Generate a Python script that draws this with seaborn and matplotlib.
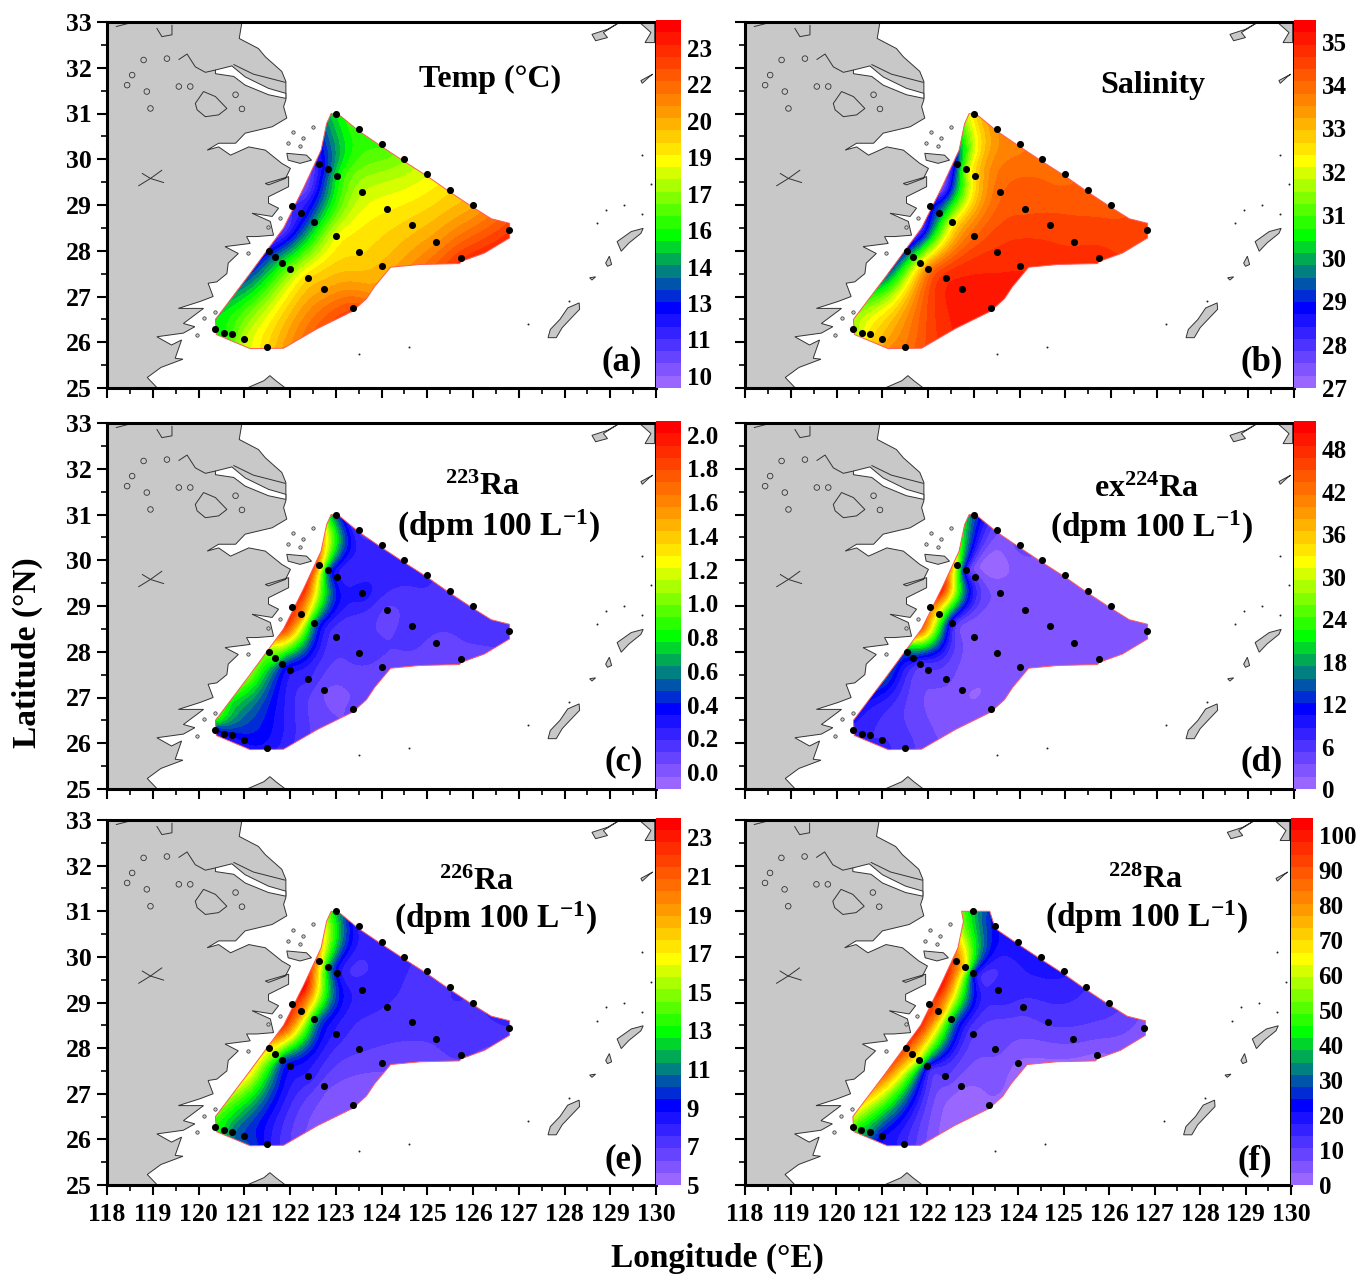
import matplotlib
matplotlib.use("Agg")
import matplotlib.pyplot as plt
import numpy as np
import pandas as pd
import seaborn as sns
from matplotlib.patches import Polygon

sns.set_theme(style="ticks")
plt.rcParams["font.family"] = ["Liberation Serif", "DejaVu Serif"]
plt.rcParams["font.weight"] = "bold"
plt.rcParams["text.color"] = "black"
plt.rcParams["mathtext.fontset"] = "custom"
plt.rcParams["mathtext.bf"] = "Liberation Serif:bold"
plt.rcParams["mathtext.rm"] = "Liberation Serif:bold"
plt.rcParams["mathtext.default"] = "bf"

W, H = 1367, 1277

# stations
st_lon = [123.0, 123.5, 124.0, 124.5, 125.0, 125.5, 126.0, 126.78,
          122.63, 122.83, 123.02, 123.57, 124.12, 124.66, 125.2, 125.73,
          122.04, 122.24, 122.53, 123.0, 123.5, 124.0,
          121.54, 121.68, 121.83, 121.99, 122.39, 122.74, 123.37,
          120.37, 120.55, 120.74, 121.0, 121.49]
st_lat = [31.0, 30.67, 30.33, 30.0, 29.68, 29.33, 29.0, 28.45,
          29.9, 29.78, 29.64, 29.28, 28.91, 28.57, 28.2, 27.85,
          28.97, 28.82, 28.63, 28.32, 27.98, 27.67,
          28.0, 27.87, 27.74, 27.6, 27.4, 27.17, 26.75,
          26.28, 26.21, 26.17, 26.07, 25.89]
# points on the edge of the mapped area, no station there
edge_lon = [122.8, 122.3, 121.8, 121.1, 120.7, 120.38, 121.15, 123.8, 124.9, 126.3]
edge_lat = [30.6, 29.35, 28.5, 27.45, 26.9, 26.5, 25.87, 27.1, 27.72, 27.95]

temp = [15.5, 16.5, 16.5, 17.5, 18.5, 19.5, 20.5, 23.0,
        12, 13.5, 15.5, 18, 19, 19.8, 21, 23,
        11.5, 12, 14.5, 18.5, 19.5, 20.2,
        12.5, 14, 15.5, 17, 19.5, 20.5, 22.5,
        15.5, 16, 16.5, 18, 19.5,
        14, 10.5, 10.5, 13.5, 15, 15.5, 18.5, 21, 21.5, 23.5]
salinity = [32.5, 33.5, 33.7, 34, 34, 34.2, 34.3, 34.5,
            29, 31.5, 32.5, 34, 34.3, 34.5, 34.6, 34.8,
            28.5, 29.5, 32, 34, 34.7, 34.9,
            29, 30.5, 32, 33.5, 34.8, 35, 35,
            31.5, 32, 32.5, 33, 33.8,
            31, 27.5, 27.5, 29.5, 31, 31.5, 33.5, 35, 34.8, 34.6]
ra223 = [0.5, 0.15, 0.25, 0.2, 0.2, 0.15, 0.15, 0.15,
         1.5, 0.55, 0.3, 0.3, 0.1, 0.15, 0.1, 0.1,
         1.9, 1.6, 0.6, 0.15, 0.15, 0.1,
         1.0, 0.9, 0.5, 0.3, 0.2, 0.05, 0.05,
         0.35, 0.35, 0.35, 0.35, 0.3,
         1.2, 1.9, 1.9, 1.0, 0.8, 0.8, 0.3, 0.05, 0.1, 0.1]
ra224 = [15, 4, 4, 3, 2, 2, 2, 2,
         28, 8, 5, 3, 2, 2, 2, 2,
         42, 30, 8, 3, 2, 2,
         15, 12, 6, 5, 4, 2, 2,
         8, 8, 7, 7, 6,
         20, 48, 45, 14, 10, 9, 7, 2, 2, 2]
ra226 = [12, 8, 8, 7.8, 7, 7.5, 7.5, 7.5,
         18, 12, 9, 8, 7.5, 7.2, 7, 7,
         22.5, 20, 12, 8, 7, 6.5,
         17, 15, 10.5, 9, 8, 6.5, 5.8,
         13, 12.5, 11, 10, 8.5,
         16, 23.5, 23, 17, 15, 14, 10, 5.8, 6.5, 6.8]
ra228 = [40, 22, 20, 19, 18, 14, 12, 5,
         85, 65, 25, 17, 12, 11, 8, 3,
         95, 85, 40, 11, 8, 3,
         90, 75, 58, 22, 11, 4, 3,
         50, 40, 35, 22, 15,
         55, 100, 100, 85, 70, 60, 20, 3, 3, 4]

# colour range of each panel
ranges = [(9.5, 24.65), (27.0, 35.5), (-0.1, 2.08), (0.0, 52.0), (5.0, 24.0), (0.0, 105.0)]
tick_pos = [[10, 11.5, 13, 14.5, 16, 17.5, 19, 20.5, 22, 23.5],
            [27, 28, 29, 30, 31, 32, 33, 34, 35],
            [0, .2, .4, .6, .8, 1, 1.2, 1.4, 1.6, 1.8, 2],
            [0, 6, 12, 18, 24, 30, 36, 42, 48],
            [5, 7, 9, 11, 13, 15, 17, 19, 21, 23],
            [0, 10, 20, 30, 40, 50, 60, 70, 80, 90, 100]]
tick_txt = [["10", "11", "13", "14", "16", "17", "19", "20", "22", "23"],
            ["27", "28", "29", "30", "31", "32", "33", "34", "35"],
            ["0.0", "0.2", "0.4", "0.6", "0.8", "1.0", "1.2", "1.4", "1.6", "1.8", "2.0"],
            ["0", "6", "12", "18", "24", "30", "36", "42", "48"],
            ["5", "7", "9", "11", "13", "15", "17", "19", "21", "23"],
            ["0", "10", "20", "30", "40", "50", "60", "70", "80", "90", "100"]]

# outline of the mapped area
area_lon = [122.9, 123.1, 123.5, 124, 124.5, 125, 125.5, 126, 126.4, 126.8, 126.8, 126.25,
            125.75, 125.7, 124.84, 124.2, 123.85, 123.67, 123.37, 122.6, 121.86, 121.13,
            120.39, 120.37, 121.08, 121.86, 122.29, 122.68, 122.8]
area_lat = [31.0, 30.95, 30.62, 30.28, 29.95, 29.63, 29.28, 28.95, 28.7, 28.6, 28.28, 27.95,
            27.77, 27.72, 27.7, 27.64, 27.22, 26.95, 26.68, 26.3, 25.87, 25.86,
            26.17, 26.5, 27.44, 28.5, 29.36, 30.2, 30.78]

# land
china = [(118, 33), (120.95, 33), (120.89, 32.64), (121.31, 32.42), (121.46, 32.24), (121.82, 31.92),
         (121.91, 31.70), (121.91, 31.30), (121.86, 31.15), (121.93, 30.90), (121.61, 30.71), (121.02, 30.57),
         (120.81, 30.35), (120.44, 30.35), (120.19, 30.20), (120.44, 30.27), (120.70, 30.09), (121.10, 30.27),
         (121.46, 30.20), (121.82, 29.91), (122.01, 29.80), (121.90, 29.58), (121.53, 29.44), (121.46, 29.47),
         (121.97, 29.62), (121.97, 29.40), (121.53, 29.18), (121.53, 29.04), (121.75, 28.93), (121.61, 28.75),
         (121.17, 28.82), (121.57, 28.64), (121.64, 28.34), (121.27, 28.31), (121.05, 28.31), (121.13, 28.16),
         (120.58, 28.09), (120.87, 27.94), (120.65, 27.73), (120.62, 27.50), (120.40, 27.32), (120.21, 27.29),
         (120.32, 27.0), (120.03, 26.89), (119.56, 26.74), (120.11, 26.74), (119.67, 26.41), (119.92, 26.34),
         (119.67, 26.2), (119.09, 26.12), (119.41, 25.94), (119.63, 26.05), (119.49, 25.65), (119.66, 25.63),
         (119.18, 25.45), (118.88, 25.23), (119.1, 25), (118, 25)]
islands = [
    [(127.64, 26.1), (127.69, 26.28), (127.9, 26.5), (128.07, 26.75), (128.32, 26.86), (128.33, 26.72),
     (128.12, 26.5), (127.95, 26.32), (127.82, 26.1)],
    [(129.15, 28.2), (129.46, 28.42), (129.72, 28.49), (129.67, 28.38), (129.41, 28.17), (129.24, 27.99)],
    [(128.9, 27.73), (128.98, 27.88), (129.03, 27.7), (128.94, 27.66)],
    [(128.55, 27.41), (128.68, 27.43), (128.6, 27.36)],
    [(129.67, 31.72), (129.93, 31.86), (129.85, 31.8), (129.7, 31.66)],
    [(128.6, 32.73), (128.94, 32.84), (129.2, 32.99), (128.85, 32.77), (128.94, 32.66), (128.68, 32.59)],
    [(129.63, 33), (129.97, 33), (129.97, 32.55), (129.76, 32.55), (129.89, 32.77)],
    [(121.06, 25), (121.43, 25.16), (121.56, 25.27), (121.69, 25.16), (121.9, 25)],
    [(121.93, 30.13), (122.36, 30.09), (122.47, 29.98), (122.22, 29.91), (121.96, 29.98)],
]
river = [(120.37, 31.95), (120.73, 32.04), (121.02, 31.8), (121.53, 31.55), (121.91, 31.44), (121.91, 31.33),
         (121.53, 31.41), (121.02, 31.62), (120.77, 31.81), (120.37, 31.87)]
# thin lines inside the land
lines = [
    [(119.57, 32.18), (119.75, 32.3), (119.93, 32.02), (120.15, 31.9), (120.37, 31.95)],
    [(120.77, 32.07), (121.2, 31.86), (121.9, 31.68)],
    [(118.69, 29.42), (118.95, 29.58), (119.2, 29.76)],
    [(118.77, 29.69), (118.95, 29.58), (119.24, 29.49)],
    [(119.09, 32.86), (119.2, 32.68), (119.42, 32.72), (119.42, 32.93)],
    [(118.2, 32.9), (118.47, 32.97)],
]
lake = [(119.93, 31.22), (120.11, 31.48), (120.37, 31.37), (120.62, 31.11), (120.44, 30.97), (120.15, 30.93),
        (119.97, 31.08), (119.93, 31.22)]
lake_lon = [118.80, 119.31, 118.87, 119.57, 119.82, 120.81, 120.95, 118.95, 118.44, 118.55]
lake_lat = [32.17, 32.2, 31.48, 31.59, 31.59, 31.41, 31.1, 31.11, 31.62, 31.84]
small_lon = [122.29, 122.51, 122.07, 121.96, 122.22, 121.78, 121.53, 121.09, 120.36, 119.96, 120.11]
small_lat = [30.46, 30.71, 30.6, 30.35, 30.28, 28.71, 28.53, 27.94, 26.67, 26.16, 26.52]
dot_lon = [129.7, 129.3, 128.9, 129.7, 129.9, 123.5, 124.6, 127.2, 128.1, 128.7]
dot_lat = [30.1, 29.0, 28.9, 28.8, 29.45, 25.75, 25.9, 26.4, 26.9, 28.6]

palette = (sns.blend_palette(["#9966ff", "#0000ff"], 7)[:-1]
           + sns.blend_palette(["#0000ff", "#008080"], 4)[:-1]
           + sns.blend_palette(["#008080", "#00ff00"], 4)[:-1]
           + sns.blend_palette(["#00ff00", "#ffff00"], 7)[:-1]
           + sns.blend_palette(["#ffff00", "#ff9900"], 5)[:-1]
           + sns.blend_palette(["#ff9900", "#ff0000"], 8))

boxes = [(107, 22, 656, 388, 681), (745, 22, 1294, 388, 1316),
         (107, 423, 656, 789, 681), (745, 423, 1294, 789, 1316),
         (107, 820, 656, 1185, 681), (745, 820, 1291, 1185, 1313)]
fields = [temp, salinity, ra223, ra224, ra226, ra228]
letters = ["(a)", "(b)", "(c)", "(d)", "(e)", "(f)"]
letter_xy = [(622, 362), (1262, 362), (624, 762), (1262, 762), (624, 1160), (1255, 1161)]
titles = [[("Temp (°C)", 490, 79, 23)],
          [("Salinity", 1153, 86, 23)],
          [("$^{223}$Ra", 483, 487, 23), ("(dpm 100 L$^{-1}$)", 498, 526, 24)],
          [("ex$^{224}$Ra", 1147, 489, 23), ("(dpm 100 L$^{-1}$)", 1151, 527, 24)],
          [("$^{226}$Ra", 477, 882, 23), ("(dpm 100 L$^{-1}$)", 495, 918, 24)],
          [("$^{228}$Ra", 1146, 880, 23), ("(dpm 100 L$^{-1}$)", 1146, 917, 24)]]


def px_axes(fig, x0, y0, x1, y1):
    return fig.add_axes([x0 / W, 1 - y1 / H, (x1 - x0) / W, (y1 - y0) / H])


def surface(x, y, z, gx, gy):
    # thin plate spline through the read values
    def kernel(r):
        return np.where(r > 0, r**2 * np.log(r + 1e-12), 0.0)

    n = len(x)
    d = np.hypot(x[:, None] - x[None, :], y[:, None] - y[None, :])
    p = np.column_stack([np.ones(n), x, y])
    a = np.block([[kernel(d) + 0.002 * np.eye(n), p], [p.T, np.zeros((3, 3))]])
    c = np.linalg.solve(a, np.r_[z, np.zeros(3)])
    dg = np.hypot(gx[..., None] - x, gy[..., None] - y)
    return kernel(dg) @ c[:n] + c[n] + c[n + 1] * gx + c[n + 2] * gy


all_lon = np.array(st_lon + edge_lon)
all_lat = np.array(st_lat + edge_lat)
gx, gy = np.meshgrid(np.linspace(120, 127.2, 300), np.linspace(25.6, 31.2, 260))
stations = pd.DataFrame({"lon": st_lon, "lat": st_lat})

fig = plt.figure(figsize=(W / 100, H / 100), dpi=100)

for i, (x0, y0, x1, y1, cx) in enumerate(boxes):
    ax = px_axes(fig, x0, y0, x1, y1)
    cax = px_axes(fig, x1, y0 - 2, cx, y1)
    vmin, vmax = ranges[i]
    levels = np.linspace(vmin, vmax, 31)
    zz = surface(all_lon, all_lat, np.array(fields[i], dtype=float), gx, gy)
    zz = np.clip(zz, vmin + 1e-6, vmax - 1e-6)

    ax.add_patch(Polygon(china, fc="#c8c8c8", ec="#333333", lw=0.7, zorder=1))
    for isl in islands:
        ax.add_patch(Polygon(isl, fc="#c8c8c8", ec="#333333", lw=0.7, zorder=1))
    ax.add_patch(Polygon(river, fc="white", ec="#333333", lw=0.7, zorder=1.5))
    ax.add_patch(Polygon(lake, fc="none", ec="#333333", lw=0.7, zorder=1.5))
    for ln in lines:
        ax.plot(*zip(*ln), color="#333333", lw=0.7, zorder=1.5)
    ax.scatter(lake_lon, lake_lat, s=16, fc="none", ec="#333333", lw=0.6, zorder=1.6)
    ax.scatter(small_lon, small_lat, s=6, fc="#c8c8c8", ec="#333333", lw=0.5, zorder=1.6)
    ax.scatter(dot_lon, dot_lat, s=2, c="#222222", lw=0, zorder=1.6)

    cs = ax.contourf(gx, gy, zz, levels=levels, colors=palette, zorder=2)
    if i == 5:
        # flat top on this panel
        lon_i = [122.76, 123.38] + area_lon[2:]
        lat_i = [31.0, 31.0] + area_lat[2:]
    else:
        lon_i, lat_i = area_lon, area_lat
    outline = Polygon(np.column_stack([lon_i, lat_i]), fc="none", ec="#ff5a5a", lw=0.7, zorder=3,
                      transform=ax.transData)
    ax.add_patch(outline)
    cs.set_clip_path(outline)

    sns.scatterplot(data=stations, x="lon", y="lat", ax=ax, color="black", marker="o", s=26,
                    linewidth=0, zorder=4, legend=False)

    ax.set_xlim(118, 130)
    ax.set_ylim(25, 33)
    ax.set_xlabel("")
    ax.set_ylabel("")
    ax.set_xticks(np.arange(118, 131))
    ax.set_yticks(np.arange(25, 34))
    ax.set_xticks(np.arange(118, 130.5, 0.5), minor=True)
    ax.set_yticks(np.arange(25, 33.5, 0.5), minor=True)
    ax.tick_params(which="major", length=7, width=1.5, labelsize=18.5, colors="black")
    ax.tick_params(axis="x", which="major", pad=6)
    ax.tick_params(axis="y", which="major", pad=4)
    ax.tick_params(which="minor", length=4, width=1.4)
    if i < 4:
        ax.tick_params(axis="x", labelbottom=False)
    if i % 2 == 1:
        ax.tick_params(axis="y", labelleft=False)
    for s in ax.spines.values():
        s.set_linewidth(2.2)
        s.set_color("black")

    cb = fig.colorbar(cs, cax=cax, ticks=tick_pos[i])
    cb.ax.set_yticklabels(tick_txt[i])
    cb.ax.tick_params(length=0, labelsize=18, pad=4, colors="black")
    cb.outline.set_visible(False)

    for txt, tx, ty, fs in titles[i]:
        fig.text(tx / W, 1 - ty / H, txt, fontsize=fs, fontweight="bold", ha="center", va="center")
    lx, ly = letter_xy[i]
    fig.text(lx / W, 1 - ly / H, letters[i], fontsize=25, fontweight="bold", ha="center", va="center")

fig.text(27 / W, 1 - 653 / H, "Latitude (°N)", fontsize=24, fontweight="bold", rotation=90,
         ha="center", va="center")
fig.text(717 / W, 1 - 1258 / H, "Longitude (°E)", fontsize=24, fontweight="bold",
         ha="center", va="center")

fig.savefig("out.png", dpi=100)
